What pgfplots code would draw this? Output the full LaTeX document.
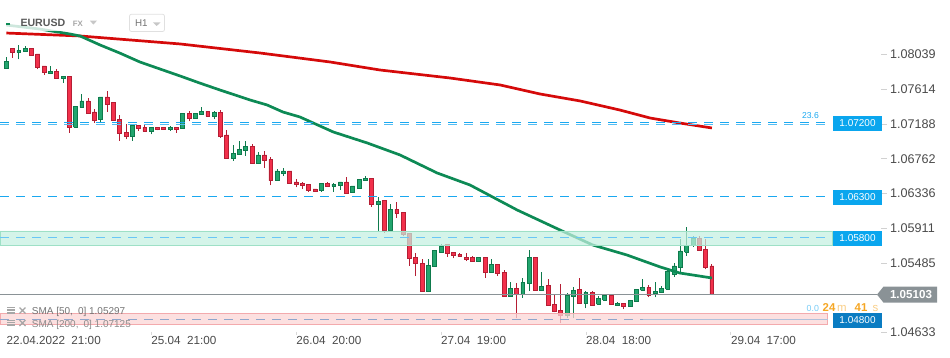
\documentclass[border=0pt]{standalone}
\usepackage{fontspec}
\setmainfont{Liberation Sans}
\usepackage{pgfplots}
\usepackage{pgfplotstable}
\pgfplotsset{compat=1.18}
\definecolor{upfill}{HTML}{22A56E}
\definecolor{upline}{HTML}{0E7A4C}
\definecolor{dnfill}{HTML}{F2304B}
\definecolor{dnline}{HTML}{B51E34}
\definecolor{smaF}{HTML}{0D8A55}
\definecolor{smaS}{HTML}{D50A0A}
\definecolor{lvl}{HTML}{1AA8F0}
\definecolor{lvlbox}{HTML}{0AA6EE}
\definecolor{lvlboxd}{HTML}{0A7CC2}
\definecolor{mint}{HTML}{C3F0E0}
\definecolor{mintline}{HTML}{9EE0C6}
\definecolor{pinkz}{HTML}{FBD5D6}
\definecolor{pinkline}{HTML}{F3AAAD}
\definecolor{dashgray}{HTML}{8FA6CC}
\definecolor{pricegray}{HTML}{8A9296}
\definecolor{txt}{HTML}{4A4A4A}
\definecolor{orng}{HTML}{F5A623}

\pgfplotstableread{
i o h l c
0 1.07866 1.08013 1.07866 1.07956
1 1.08116 1.08116 1.08001 1.08062
2 1.08067 1.08156 1.07981 1.08091
3 1.08074 1.08144 1.08074 1.08116
4 1.08116 1.08116 1.08025 1.08025
5 1.08046 1.08046 1.07858 1.07883
6 1.07899 1.07899 1.07792 1.07817
7 1.07809 1.07899 1.07809 1.07834
8 1.07834 1.07858 1.07748 1.07748
9 1.07743 1.07773 1.07694 1.07773
10 1.07773 1.07773 1.07081 1.07147
11 1.07147 1.07408 1.07147 1.07400
12 1.07392 1.07552 1.07392 1.07470
13 1.07470 1.07503 1.07319 1.07319
14 1.07335 1.07368 1.07204 1.07237
15 1.07240 1.07519 1.07212 1.07519
16 1.07519 1.07592 1.07339 1.07433
17 1.07454 1.07454 1.07233 1.07233
18 1.07245 1.07298 1.06983 1.07074
19 1.07086 1.07184 1.07000 1.07032
20 1.07032 1.07175 1.06983 1.07175
21 1.07172 1.07172 1.07102 1.07130
22 1.07147 1.07184 1.07098 1.07098
23 1.07098 1.07147 1.07061 1.07147
24 1.07147 1.07147 1.07110 1.07123
25 1.07147 1.07147 1.07123 1.07123
26 1.07123 1.07163 1.07106 1.07147
27 1.07147 1.07147 1.07081 1.07118
28 1.07130 1.07319 1.07130 1.07319
29 1.07319 1.07347 1.07221 1.07253
30 1.07253 1.07319 1.07253 1.07319
31 1.07302 1.07400 1.07302 1.07343
32 1.07343 1.07343 1.07282 1.07282
33 1.07282 1.07347 1.07245 1.07331
34 1.07331 1.07359 1.07020 1.07032
35 1.07053 1.07114 1.06762 1.06762
36 1.06762 1.06927 1.06738 1.06829
37 1.06811 1.06979 1.06811 1.06878
38 1.06860 1.06979 1.06799 1.06918
39 1.06918 1.06946 1.06706 1.06706
40 1.06706 1.06848 1.06706 1.06808
41 1.06808 1.06857 1.06652 1.06743
42 1.06755 1.06779 1.06436 1.06493
43 1.06493 1.06632 1.06493 1.06612
44 1.06578 1.06645 1.06550 1.06612
45 1.06612 1.06612 1.06456 1.06456
46 1.06477 1.06510 1.06412 1.06444
47 1.06464 1.06480 1.06395 1.06431
48 1.06448 1.06448 1.06358 1.06370
49 1.06391 1.06391 1.06358 1.06358
50 1.06370 1.06461 1.06358 1.06461
51 1.06461 1.06477 1.06424 1.06424
52 1.06424 1.06468 1.06358 1.06452
53 1.06436 1.06477 1.06379 1.06477
54 1.06477 1.06538 1.06338 1.06338
55 1.06346 1.06428 1.06346 1.06428
56 1.06395 1.06513 1.06395 1.06513
57 1.06493 1.06550 1.06493 1.06522
58 1.06522 1.06522 1.06174 1.06198
59 1.06198 1.06289 1.05876 1.06240
60 1.06252 1.06252 1.05855 1.05880
61 1.05880 1.06207 1.05880 1.06142
62 1.06142 1.06228 1.06039 1.06088
63 1.06105 1.06105 1.05811 1.05831
64 1.05848 1.05848 1.05451 1.05536
65 1.05553 1.05603 1.05324 1.05480
66 1.05480 1.05529 1.05132 1.05132
67 1.05132 1.05533 1.05132 1.05455
68 1.05438 1.05639 1.05438 1.05639
69 1.05610 1.05717 1.05610 1.05692
70 1.05708 1.05708 1.05561 1.05598
71 1.05615 1.05615 1.05541 1.05573
72 1.05594 1.05606 1.05561 1.05561
73 1.05553 1.05603 1.05508 1.05524
74 1.05553 1.05566 1.05500 1.05500
75 1.05500 1.05553 1.05500 1.05553
76 1.05553 1.05553 1.05303 1.05365
77 1.05365 1.05529 1.05365 1.05468
78 1.05468 1.05468 1.05324 1.05352
79 1.05370 1.05394 1.05075 1.05075
80 1.05075 1.05254 1.05075 1.05173
81 1.05173 1.05242 1.04806 1.05104
82 1.05104 1.05296 1.05058 1.05247
83 1.05235 1.05643 1.05144 1.05553
84 1.05553 1.05553 1.05144 1.05144
85 1.05144 1.05370 1.05144 1.05198
86 1.05210 1.05284 1.04965 1.04965
87 1.04977 1.05091 1.04879 1.04887
88 1.04907 1.05226 1.04744 1.04838
89 1.04838 1.05119 1.04813 1.05088
90 1.05070 1.05186 1.04813 1.05149
91 1.05161 1.05296 1.04990 1.04990
92 1.04990 1.05140 1.04928 1.05128
93 1.05128 1.05144 1.04969 1.04969
94 1.04977 1.05075 1.04977 1.05051
95 1.05030 1.05091 1.05030 1.05091
96 1.05091 1.05091 1.04977 1.04977
97 1.04965 1.05002 1.04965 1.04990
98 1.04990 1.04990 1.04916 1.04953
99 1.04953 1.05026 1.04953 1.05026
100 1.05014 1.05161 1.05014 1.05161
101 1.05149 1.05284 1.05149 1.05189
102 1.05186 1.05214 1.05063 1.05091
103 1.05107 1.05254 1.05063 1.05140
104 1.05119 1.05202 1.05119 1.05177
105 1.05161 1.05419 1.05161 1.05377
106 1.05349 1.05480 1.05316 1.05447
107 1.05426 1.05778 1.05345 1.05631
108 1.05615 1.05929 1.05573 1.05696
109 1.05696 1.05815 1.05683 1.05786
110 1.05786 1.05809 1.05634 1.05634
111 1.05655 1.05778 1.05406 1.05426
112 1.05447 1.05471 1.05104 1.05104
}\candles

\pgfplotstableread{
i p
0 1.08401
5.3 1.08352
10.1 1.08291
11.7 1.08267
14.9 1.08156
18.0 1.08058
21.2 1.07948
24.4 1.07862
27.6 1.07776
30.7 1.07690
33.9 1.07605
38.7 1.07482
41.4 1.07421
43.9 1.07335
46.6 1.07274
51.9 1.07090
57.3 1.06955
62.5 1.06808
68.4 1.06587
73.6 1.06440
81.1 1.06133
87.9 1.05888
93.1 1.05704
98.5 1.05582
103.8 1.05435
106.9 1.05361
109.0 1.05336
112 1.05300
}\smafast

\pgfplotstableread{
i p
0 1.08303
11.7 1.08267
27.6 1.08169
40.3 1.08058
51.4 1.07948
59.3 1.07850
70.4 1.07752
78.4 1.07666
84.7 1.07556
91.1 1.07470
97.4 1.07359
102.2 1.07261
106.9 1.07200
112 1.07139
}\smaslow

\begin{document}
\begin{tikzpicture}
\useasboundingbox (0,0) rectangle (950pt,-358pt);
\begin{axis}[
  at={(0,0)}, anchor=north west,
  width=880pt, height=335pt, scale only axis,
  xmin=-1, xmax=138.683, ymin=1.04601, ymax=1.08708,
  axis line style={draw=none}, clip=false,
  major tick length=0pt, tick style={draw=none},
  xtick pos=bottom, ytick pos=right,
  xticklabel pos=lower, yticklabel pos=right,
  scaled y ticks=false,
  xtick={0,23,46,69,92,115},
  xticklabels={22.04.2022\hspace{0.55em}21:00,25.04\hspace{0.55em}21:00,26.04\hspace{0.55em}20:00,27.04\hspace{0.55em}19:00,28.04\hspace{0.55em}18:00,29.04\hspace{0.55em}17:00},
  ytick={1.04633,1.05485,1.05911,1.06336,1.06762,1.07188,1.07614,1.08039},
  yticklabels={1.04633,1.05485,1.05911,1.06336,1.06762,1.07188,1.07614,1.08039},
  xticklabel style={anchor=north west, inner sep=0pt, yshift=-1.5pt, font=\fontsize{11.7}{13}\selectfont, text=txt},
  yticklabel style={anchor=west, inner sep=0pt, xshift=10pt, font=\fontsize{12.6}{14}\selectfont, text=txt},
]
% candles
\pgfplotsinvokeforeach{0,...,112}{
  \pgfplotstablegetelem{#1}{o}\of\candles\let\cO\pgfplotsretval
  \pgfplotstablegetelem{#1}{h}\of\candles\let\cH\pgfplotsretval
  \pgfplotstablegetelem{#1}{l}\of\candles\let\cL\pgfplotsretval
  \pgfplotstablegetelem{#1}{c}\of\candles\let\cC\pgfplotsretval
  \ifdim\cC pt<\cO pt \def\cfill{dnfill}\def\cdraw{dnline}\else\def\cfill{upfill}\def\cdraw{upline}\fi
  \pgfmathsetmacro\xa{#1-0.31}\pgfmathsetmacro\xb{#1+0.31}
  \edef\temp{\noexpand\addplot[draw=\cdraw, line width=1pt, forget plot] coordinates {(#1,\cL) (#1,\cH)};
    \noexpand\addplot[fill=\cfill, draw=\cdraw, line width=0.8pt, forget plot] coordinates {(\xa,\cO) (\xb,\cO) (\xb,\cC) (\xa,\cC) (\xa,\cO)};}
  \temp
}
% moving averages
\addplot[smaS, line width=2.7pt, forget plot] table[x=i,y=p]{\smaslow};
\addplot[smaF, line width=2.7pt, forget plot] table[x=i,y=p]{\smafast};
% zones
\addplot[fill=mint, fill opacity=0.72, draw=mintline, line width=0.8pt, forget plot] coordinates {(-1,1.05705) (131.2,1.05705) (131.2,1.05876) (-1,1.05876) (-1,1.05705)};
\addplot[fill=pinkz, fill opacity=0.75, draw=pinkline, line width=0.8pt, forget plot] coordinates {(-1,1.04732) (130.4,1.04732) (130.4,1.04867) (-1,1.04867) (-1,1.04732)};
% levels
\addplot[lvl, line width=0.8pt, dash pattern=on 9pt off 7pt, forget plot] coordinates {(-1,1.07208) (130.4,1.07208)};
\addplot[lvl!75, line width=0.8pt, dash pattern=on 9pt off 7pt, forget plot] coordinates {(-1,1.07188) (130.4,1.07188)};
\addplot[lvl, line width=0.9pt, dash pattern=on 9pt off 7pt, forget plot] coordinates {(-1,1.063) (130.4,1.063)};
\addplot[lvl!65, line width=0.9pt, dash pattern=on 9pt off 7pt, forget plot] coordinates {(-1,1.058) (130.4,1.058)};
\addplot[dashgray, line width=0.8pt, dash pattern=on 9pt off 7pt, forget plot] coordinates {(-1,1.04797) (130.4,1.04797)};
\addplot[dashgray!70, line width=0.7pt, forget plot] coordinates {(101,1.04797) (130.4,1.04797)};
% current price
\addplot[pricegray, line width=1.1pt, forget plot] coordinates {(-1,1.05103) (138.2,1.05103)};
\end{axis}

\begin{scope}[x=1pt,y=-1pt]
% y tick dashes
\foreach \yy in {54.6,89.2,124.0,158.7,193.5,228.2,262.9,332.4}{
  \draw[black!18, line width=0.8pt] (881,\yy) -- (887,\yy);}
% x tick marks
\foreach \xx in {151.2,296.1,441,585.9,730.8}{
  \draw[black!15, line width=0.8pt] (\xx,331.5) -- (\xx,335);}
% header
\fill[white, opacity=0.8] (0,14) rectangle (78,31.5);
\fill[smaF] (5.7,22.7) rectangle (10,25.3);
\node[anchor=west, inner sep=0pt, font=\fontsize{10.6}{12}\selectfont\bfseries, text=black!65] at (20.3,23.3) {EURUSD};
\node[anchor=west, inner sep=0pt, font=\fontsize{7.8}{9}\selectfont\bfseries, text=black!35] at (72.6,23.6) {FX};
\fill[black!22] (89.8,20.6) -- (97,20.6) -- (93.4,24.6) -- cycle;
\draw[black!12, line width=0.8pt, rounded corners=2pt] (129.5,14.2) rectangle (164.5,31.5);
\node[anchor=west, inner sep=0pt, font=\fontsize{9.8}{11}\selectfont, text=black!55] at (134.8,23.2) {H1};
\fill[black!22] (152.8,22.3) -- (160.6,22.3) -- (156.7,26) -- cycle;
% fib label
\node[inner sep=0pt, font=\fontsize{8.6}{10}\selectfont, text=lvl] at (810.5,115.5) {23.6};
% timer
\node[anchor=west, inner sep=0pt, font=\fontsize{8.8}{10}\selectfont, text=lvl!60] at (806.5,308.2) {0.0};
\node[anchor=west, inner sep=0pt, font=\fontsize{11.4}{13}\selectfont\bfseries, text=orng] at (822.5,308) {24};
\node[anchor=west, inner sep=0pt, font=\fontsize{11.4}{13}\selectfont, text=orng!55] at (837,308) {m};
\node[anchor=west, inner sep=0pt, font=\fontsize{11.4}{13}\selectfont\bfseries, text=orng] at (854.5,308) {41};
\node[anchor=west, inner sep=0pt, font=\fontsize{11.4}{13}\selectfont, text=orng!55] at (872.5,308) {s};
% level boxes
\foreach \yc/\lab in {123.4/1.07200, 197.4/1.06300, 238.4/1.05800}{
  \fill[lvlbox] (833,\yc-7.5) rectangle (882,\yc+7.5);
  \node[inner sep=0pt, font=\fontsize{10}{11}\selectfont, text=white] at (857.5,\yc) {\lab};}
\fill[lvlboxd] (833,313.2) rectangle (882,327.6);
\node[inner sep=0pt, font=\fontsize{10}{11}\selectfont, text=white] at (857.5,320.4) {1.04800};
% current price tag
\fill[pricegray] (877,294.6) -- (883.5,286.6) -- (937,286.6) -- (937,302.6) -- (883.5,302.6) -- cycle;
\node[inner sep=0pt, font=\fontsize{11.6}{13}\selectfont\bfseries, text=white] at (911,294.8) {1.05103};
% bottom-left legend
\foreach \yc in {310.5,323}{
  \fill[black!35] (6.7,\yc-3.2) rectangle (14.7,\yc-2.2);
  \fill[black!35] (6.7,\yc-1.2) rectangle (14.7,\yc+0.2);
  \fill[black!35] (6.7,\yc+1.2) rectangle (14.7,\yc+3);
  \draw[black!35, line width=1.3pt] (19.5,\yc-3) -- (25.5,\yc+3) (19.5,\yc+3) -- (25.5,\yc-3);}
\node[anchor=west, inner sep=0pt, font=\fontsize{10}{12}\selectfont, text=black!55] at (31.7,311.8) {SMA [50,\hspace{0.5em}0] 1.05297};
\node[anchor=west, inner sep=0pt, font=\fontsize{10}{12}\selectfont, text=black!45] at (31.7,324.6) {SMA [200,\hspace{0.5em}0] 1.07125};
\end{scope}
\end{tikzpicture}
\end{document}
